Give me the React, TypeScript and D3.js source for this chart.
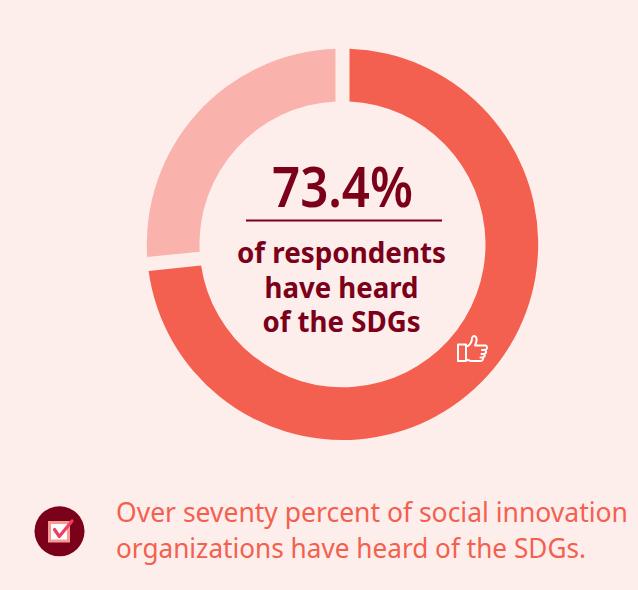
import React from "react";
import * as d3 from "d3";

const shareLabels = ["Heard of the SDGs", "Have not heard"];
const shareValues = [73.4, 26.6];
const sliceColors = ["#f4604f", "#fab3ac"];
const headline = "73.4%";
const centerLines = ["of respondents", "have heard", "of the SDGs"];
const centerWidths = [209, 154, 158];
const noteLines = [
  "Over seventy percent of social innovation",
  "organizations have heard of the SDGs.",
];
const noteWidths = [512, 470];

const WIDTH = 638;
const HEIGHT = 590;
const FONT = "'Noto Sans', sans-serif";

export default function App() {
  const pie = d3.pie<number>().sort(null).value((d) => d);
  const arc = d3
    .arc<d3.PieArcDatum<number>>()
    .innerRadius(143)
    .outerRadius(195.7)
    .padRadius(195.7)
    .padAngle(14 / 195.7);
  const slices = pie(shareValues);

  return (
    <svg
      width={WIDTH}
      height={HEIGHT}
      viewBox={`0 0 ${WIDTH} ${HEIGHT}`}
      style={{ position: "fixed", left: 0, top: 0, background: "#fdeeeb" }}
    >
      <g transform="translate(342.5,244.3)">
        {slices.map((s, i) => (
          <path key={shareLabels[i]} d={arc(s) ?? ""} fill={sliceColors[i]} />
        ))}
      </g>

      <text
        x={342.5}
        y={207}
        textAnchor="middle"
        fontFamily={FONT}
        fontWeight={600}
        fontSize={56}
        textLength={141}
        lengthAdjust="spacingAndGlyphs"
        fill="#7b0019"
      >
        {headline}
      </text>
      <line x1={246} x2={442} y1={220.5} y2={220.5} stroke="#7b0019" strokeWidth={2} />
      {centerLines.map((t, i) => (
        <text
          key={t}
          x={341.5}
          y={263 + i * 34.5}
          textAnchor="middle"
          fontFamily={FONT}
          fontWeight={700}
          fontSize={28}
          textLength={centerWidths[i]}
          lengthAdjust="spacingAndGlyphs"
          fill="#7b0019"
        >
          {t}
        </text>
      ))}

      {/* thumbs-up glyph on the ring */}
      <g
        transform="translate(457,335)"
        fill="none"
        stroke="#fff"
        strokeWidth={2}
        strokeLinejoin="round"
        strokeLinecap="round"
      >
        <rect x={1} y={9.5} width={8} height={16.5} />
        <path d="M9 11 L11 11 Q15 8 15 3 Q16 0 18.5 1.5 Q21 4 18 10.5 L29 10.5 Q31.5 12.5 28.5 15 L25 15 M28.5 15 Q30 17.5 27.5 19 L24.5 19 M27.5 19 Q28.5 21.5 26 22.5 L23.5 22.5 M26 22.5 Q26.5 26 23 26 L14 26 L9 24.5" />
      </g>

      {/* check-box badge beside the note */}
      <circle cx={59.5} cy={531.3} r={25} fill="#7b0019" />
      <rect x={49.5} y={522.5} width={19} height={18.5} fill="#fff" stroke="#f79a94" strokeWidth={3} />
      <path
        d="M54.5 529.5 L59.3 536.5 L72 521"
        fill="none"
        stroke="#ee3f63"
        strokeWidth={3.2}
        strokeLinecap="round"
        strokeLinejoin="round"
      />

      {noteLines.map((t, i) => (
        <text
          key={t}
          x={116}
          y={522 + i * 35.5}
          fontFamily={FONT}
          fontWeight={400}
          fontSize={27}
          textLength={noteWidths[i]}
          lengthAdjust="spacingAndGlyphs"
          fill="#f4604f"
        >
          {t}
        </text>
      ))}
    </svg>
  );
}
